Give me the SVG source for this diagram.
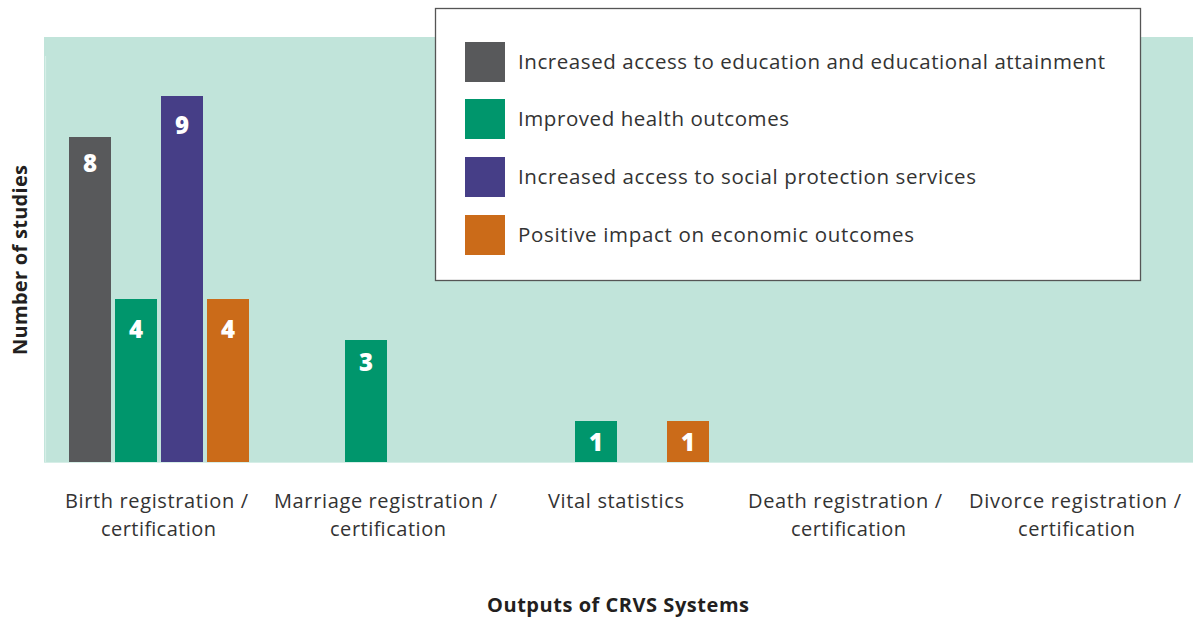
<svg xmlns="http://www.w3.org/2000/svg" width="1193" height="620" viewBox="0 0 1193 620">
<style>
.lbl{font-family:"Open Sans",Lato,"Liberation Sans",sans-serif;font-size:20px;fill:#333333}
.leg{font-family:"Open Sans",Lato,"Liberation Sans",sans-serif;font-size:20.5px;fill:#333333}
.ttl{font-family:"Open Sans",Lato,"Liberation Sans",sans-serif;font-size:20px;font-weight:bold;fill:#231f20}
.num{font-family:"Open Sans",Lato,"Liberation Sans",sans-serif;font-size:24px;font-weight:800;fill:#ffffff;text-anchor:middle}
.g{fill:#58595b}.h{fill:#00966c}.p{fill:#463e87}.o{fill:#cb6b19}
</style>
<rect id="plot-bg" x="44" y="37" width="1149" height="425" fill="#c1e4da"/>
<g id="axes" stroke="#d6eee7" stroke-width="1.2">
<line x1="45.5" y1="56" x2="45.5" y2="462"/>
<line x1="44" y1="462.5" x2="1193" y2="462.5"/>
</g>
<g id="bars-birth">
<rect class="g" x="69" y="137" width="42" height="325"/><text class="num" x="90" y="171.5">8</text>
<rect class="h" x="115" y="299" width="42" height="163"/><text class="num" x="136" y="337.5">4</text>
<rect class="p" x="161" y="96" width="42" height="366"/><text class="num" x="182" y="133.5">9</text>
<rect class="o" x="207" y="299" width="42" height="163"/><text class="num" x="228" y="337.5">4</text>
</g>
<g id="bars-marriage">
<rect class="h" x="345" y="340" width="42" height="122"/><text class="num" x="366" y="370.5">3</text>
</g>
<g id="bars-vital">
<rect class="h" x="575" y="421" width="42" height="41"/><text class="num" x="596" y="450.5">1</text>
<rect class="o" x="667" y="421" width="42" height="41"/><text class="num" x="688" y="450.5">1</text>
</g>
<g id="legend">
<rect x="435.5" y="8.5" width="705" height="272" fill="#ffffff" stroke="#555555" stroke-width="1.3"/>
<rect class="g" x="465" y="42" width="40" height="40"/>
<text class="leg" x="518" y="69" textLength="587" lengthAdjust="spacing">Increased access to education and educational attainment</text>
<rect class="h" x="465" y="99" width="40" height="40"/>
<text class="leg" x="518" y="126" textLength="271" lengthAdjust="spacing">Improved health outcomes</text>
<rect class="p" x="465" y="157" width="40" height="40"/>
<text class="leg" x="518" y="184" textLength="458" lengthAdjust="spacing">Increased access to social protection services</text>
<rect class="o" x="465" y="215" width="40" height="40"/>
<text class="leg" x="518" y="242" textLength="396" lengthAdjust="spacing">Positive impact on economic outcomes</text>
</g>
<g id="category-labels">
<text class="lbl" x="65" y="508" textLength="183" lengthAdjust="spacing">Birth registration /</text>
<text class="lbl" x="101" y="536" textLength="115" lengthAdjust="spacing">certification</text>
<text class="lbl" x="274" y="508" textLength="223" lengthAdjust="spacing">Marriage registration /</text>
<text class="lbl" x="330" y="536" textLength="116" lengthAdjust="spacing">certification</text>
<text class="lbl" x="548" y="508" textLength="136" lengthAdjust="spacing">Vital statistics</text>
<text class="lbl" x="748" y="508" textLength="194" lengthAdjust="spacing">Death registration /</text>
<text class="lbl" x="791" y="536" textLength="115" lengthAdjust="spacing">certification</text>
<text class="lbl" x="969" y="508" textLength="212" lengthAdjust="spacing">Divorce registration /</text>
<text class="lbl" x="1018" y="536" textLength="117" lengthAdjust="spacing">certification</text>
</g>
<g id="axis-titles">
<text class="ttl" x="487" y="612" textLength="262" lengthAdjust="spacing">Outputs of CRVS Systems</text>
<text class="ttl" transform="translate(27,355) rotate(-90)" textLength="190" lengthAdjust="spacing">Number of studies</text>
</g>
</svg>
